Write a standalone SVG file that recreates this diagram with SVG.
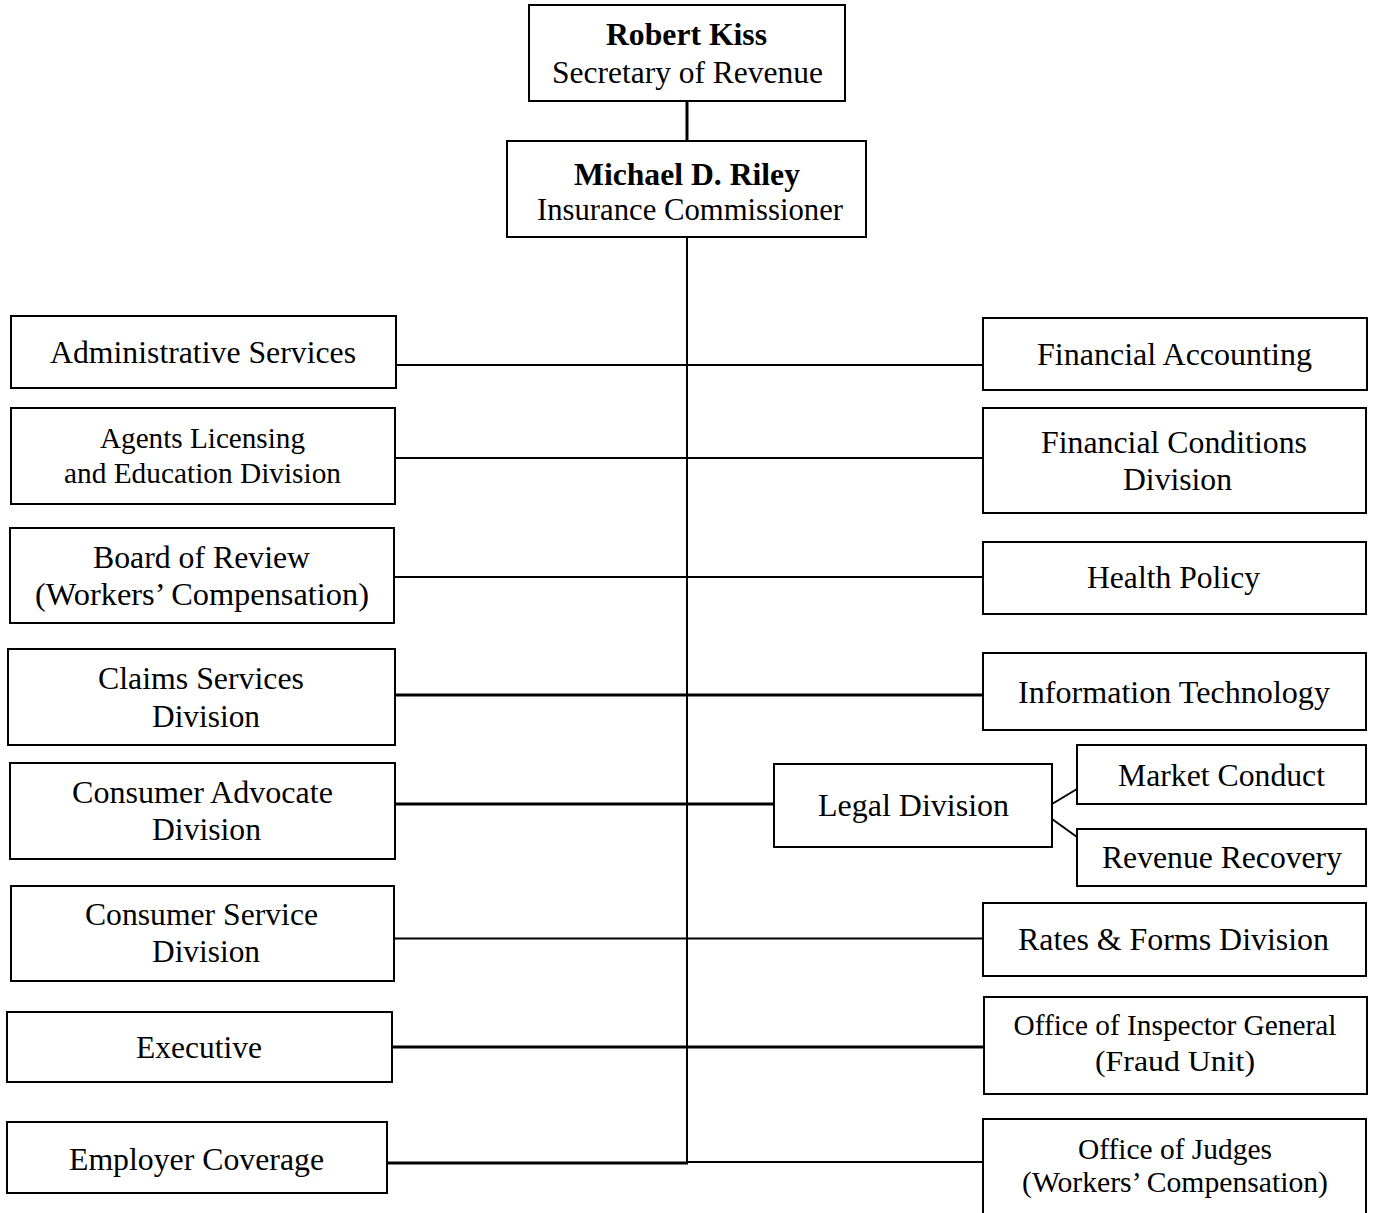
<svg xmlns="http://www.w3.org/2000/svg" width="1375" height="1213" viewBox="0 0 1375 1213">
<style>
rect.box{fill:#fff;stroke:#000;stroke-width:2}
text{font-family:"Liberation Serif","Times New Roman",serif;font-size:31.5px;fill:#000;text-anchor:middle}
text.b{font-weight:bold}
text.s{font-size:29px}
#connectors line{stroke:#000;stroke-width:2}
#connectors line.t{stroke-width:3}
</style>
<rect width="1375" height="1213" fill="#fff"/>
<g id="connectors">
<line class="t" x1="687" y1="101" x2="687" y2="141"/>
<line x1="687" y1="237" x2="687" y2="1163"/>
<line x1="396" y1="365" x2="983" y2="365"/>
<line x1="395" y1="458" x2="983" y2="458"/>
<line x1="394" y1="577" x2="983" y2="577"/>
<line class="t" x1="395" y1="695" x2="983" y2="695"/>
<line class="t" x1="395" y1="804" x2="774" y2="804"/>
<line x1="394" y1="938.5" x2="983" y2="938.5"/>
<line class="t" x1="392" y1="1047" x2="984" y2="1047"/>
<line class="t" x1="387" y1="1163" x2="688" y2="1163"/>
<line x1="687" y1="1162" x2="983" y2="1162"/>
<line x1="1052" y1="804" x2="1077" y2="789"/>
<line x1="1052" y1="819" x2="1077" y2="837"/>
</g>
<g id="kiss"><rect class="box" x="529" y="5" width="316" height="96"/>
<text class="b" x="686.5" y="45" textLength="161" lengthAdjust="spacingAndGlyphs">Robert Kiss</text>
<text x="687.5" y="83" textLength="271" lengthAdjust="spacingAndGlyphs">Secretary of Revenue</text></g>
<g id="riley"><rect class="box" x="507" y="141" width="359" height="96"/>
<text class="b" x="687" y="185" textLength="226" lengthAdjust="spacingAndGlyphs">Michael D. Riley</text>
<text x="690" y="220" textLength="306" lengthAdjust="spacingAndGlyphs">Insurance Commissioner</text></g>
<g id="admin"><rect class="box" x="11" y="316" width="385" height="72"/>
<text x="203" y="363" textLength="306" lengthAdjust="spacingAndGlyphs">Administrative Services</text></g>
<g id="agents"><rect class="box" x="11" y="408" width="384" height="96"/>
<text class="s" x="202.5" y="448" textLength="205" lengthAdjust="spacingAndGlyphs">Agents Licensing</text>
<text class="s" x="202.5" y="483" textLength="277" lengthAdjust="spacingAndGlyphs">and Education Division</text></g>
<g id="board"><rect class="box" x="10" y="528" width="384" height="95"/>
<text x="201.5" y="568" textLength="217" lengthAdjust="spacingAndGlyphs">Board of Review</text>
<text x="202" y="605" textLength="334" lengthAdjust="spacingAndGlyphs">(Workers’ Compensation)</text></g>
<g id="claims"><rect class="box" x="8" y="649" width="387" height="96"/>
<text x="201" y="689" textLength="206" lengthAdjust="spacingAndGlyphs">Claims Services</text>
<text x="206" y="727" textLength="108" lengthAdjust="spacingAndGlyphs">Division</text></g>
<g id="advocate"><rect class="box" x="10" y="763" width="385" height="96"/>
<text x="202.5" y="803" textLength="261" lengthAdjust="spacingAndGlyphs">Consumer Advocate</text>
<text x="206.5" y="840" textLength="109" lengthAdjust="spacingAndGlyphs">Division</text></g>
<g id="service"><rect class="box" x="11" y="886" width="383" height="95"/>
<text x="201.5" y="925" textLength="233" lengthAdjust="spacingAndGlyphs">Consumer Service</text>
<text x="206" y="962" textLength="108" lengthAdjust="spacingAndGlyphs">Division</text></g>
<g id="executive"><rect class="box" x="7" y="1012" width="385" height="70"/>
<text x="199" y="1058" textLength="126" lengthAdjust="spacingAndGlyphs">Executive</text></g>
<g id="employer"><rect class="box" x="7" y="1122" width="380" height="71"/>
<text x="196.5" y="1170" textLength="255" lengthAdjust="spacingAndGlyphs">Employer Coverage</text></g>
<g id="finacc"><rect class="box" x="983" y="318" width="384" height="72"/>
<text x="1174.5" y="365" textLength="275" lengthAdjust="spacingAndGlyphs">Financial Accounting</text></g>
<g id="fincond"><rect class="box" x="983" y="408" width="383" height="105"/>
<text x="1174" y="453" textLength="266" lengthAdjust="spacingAndGlyphs">Financial Conditions</text>
<text x="1177.5" y="490" textLength="109" lengthAdjust="spacingAndGlyphs">Division</text></g>
<g id="health"><rect class="box" x="983" y="542" width="383" height="72"/>
<text x="1173.5" y="588" textLength="173" lengthAdjust="spacingAndGlyphs">Health Policy</text></g>
<g id="it"><rect class="box" x="983" y="653" width="383" height="77"/>
<text x="1174" y="703" textLength="312" lengthAdjust="spacingAndGlyphs">Information Technology</text></g>
<g id="legal"><rect class="box" x="774" y="764" width="278" height="83"/>
<text x="913.5" y="816" textLength="191" lengthAdjust="spacingAndGlyphs">Legal Division</text></g>
<g id="market"><rect class="box" x="1077" y="745" width="289" height="59"/>
<text x="1221.5" y="786" textLength="207" lengthAdjust="spacingAndGlyphs">Market Conduct</text></g>
<g id="recovery"><rect class="box" x="1077" y="829" width="289" height="57"/>
<text x="1222" y="868" textLength="240" lengthAdjust="spacingAndGlyphs">Revenue Recovery</text></g>
<g id="rates"><rect class="box" x="983" y="903" width="383" height="73"/>
<text x="1173.5" y="950" textLength="311" lengthAdjust="spacingAndGlyphs">Rates &amp; Forms Division</text></g>
<g id="oig"><rect class="box" x="984" y="997" width="383" height="97"/>
<text class="s" x="1175" y="1035" textLength="323" lengthAdjust="spacingAndGlyphs">Office of Inspector General</text>
<text class="s" x="1175" y="1071" textLength="160" lengthAdjust="spacingAndGlyphs">(Fraud Unit)</text></g>
<g id="judges"><rect class="box" x="983" y="1119" width="383" height="100"/>
<text class="s" x="1175" y="1159" textLength="194" lengthAdjust="spacingAndGlyphs">Office of Judges</text>
<text class="s" x="1175" y="1192" textLength="306" lengthAdjust="spacingAndGlyphs">(Workers’ Compensation)</text></g>
</svg>
